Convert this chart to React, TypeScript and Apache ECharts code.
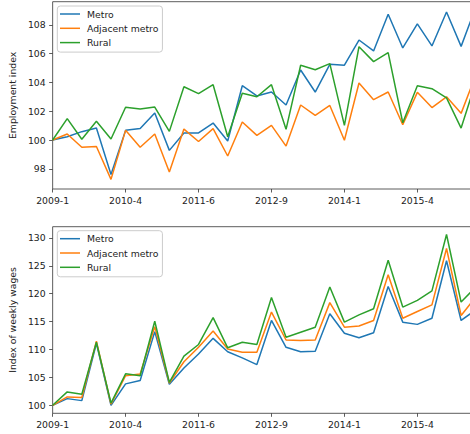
import { useEffect, useRef } from 'react';
import * as echarts from 'echarts';

const categories = [
  '2009-1', '2009-4', '2009-7', '2009-10', '2010-1', '2010-4', '2010-7', '2010-10', '2011-1', '2011-3',
  '2011-6', '2011-9', '2011-12', '2012-3', '2012-6', '2012-9', '2012-12', '2013-3', '2013-6', '2013-9',
  '2014-1', '2014-4', '2014-7', '2014-10', '2015-1', '2015-4', '2015-7', '2015-10', '2016-1', '2016-4'
];

const seriesNames = ['Metro', 'Adjacent metro', 'Rural'];
const colors = ['#1f77b4', '#ff7f0e', '#2ca02c'];

const employmentMetro = [
  100.0, 100.23, 100.58, 100.83, 97.6, 100.67, 100.8, 101.87, 99.28, 100.49,
  100.49, 101.18, 99.93, 103.77, 103.06, 103.33, 102.43, 104.86, 103.33, 105.25,
  105.19, 106.94, 106.18, 108.73, 106.39, 108.06, 106.53, 108.89, 106.5, 109.2
];
const employmentAdjacent = [
  100.0, 100.42, 99.5, 99.55, 97.27, 100.67, 99.5, 100.42, 97.78, 100.76,
  99.9, 100.79, 98.89, 101.25, 100.32, 101.02, 99.58, 102.43, 101.71, 102.4,
  99.98, 103.96, 102.8, 103.33, 101.06, 103.31, 102.25, 103.0, 101.85, 104.5
];
const employmentRural = [
  100.0, 101.48, 100.05, 101.3, 100.07, 102.27, 102.15, 102.29, 100.6, 103.7,
  103.22, 103.84, 100.23, 103.24, 103.0, 103.84, 100.74, 105.19, 104.88, 105.3,
  101.02, 106.48, 105.44, 106.06, 101.2, 103.77, 103.56, 102.92, 100.83, 104.0
];

const wagesMetro = [
  100.0, 101.2, 100.84, 111.1, 100.0, 103.84, 104.44, 113.2, 103.78, 106.7,
  109.2, 112.0, 109.6, 108.5, 107.3, 115.2, 110.4, 109.6, 109.7, 116.4,
  112.9, 112.1, 113.0, 121.3, 114.9, 114.5, 115.6, 125.9, 115.2, 117.1
];
const wagesAdjacent = [
  100.0, 101.5, 101.4, 111.5, 100.2, 105.3, 105.6, 114.1, 104.0, 107.8,
  110.4, 113.3, 110.1, 109.5, 109.5, 116.7, 111.7, 111.6, 111.7, 118.4,
  114.0, 114.2, 115.2, 123.4, 115.6, 116.8, 118.0, 128.1, 116.1, 119.4
];
const wagesRural = [
  100.0, 102.4, 102.0, 111.3, 100.4, 105.64, 105.3, 115.06, 104.1, 108.8,
  110.9, 115.7, 110.3, 111.3, 110.9, 119.3, 112.2, 113.1, 114.0, 121.2,
  114.9, 116.2, 117.3, 126.0, 117.6, 118.8, 120.5, 130.6, 118.5, 121.2
];

const FONT = 'DejaVu Sans';
const TEXT = '#222';
const SPINE = '#333';

const App = () => {
  const chartRef = useRef<HTMLDivElement>(null);

  useEffect(() => {
    if (!chartRef.current) return;

    const chart = echarts.init(chartRef.current, undefined, { renderer: 'svg' });

    const xAxisBase = {
      type: 'category',
      data: categories,
      boundaryGap: false,
      axisLine: { show: false },
      axisTick: { show: true, interval: 4, length: 3.5, lineStyle: { color: SPINE, width: 0.8 } },
      axisLabel: { interval: 4, margin: 7, fontSize: 9.3, color: TEXT, fontFamily: FONT },
      splitLine: { show: false }
    };

    const yAxisBase = {
      type: 'value',
      splitNumber: 6,
      nameLocation: 'middle',
      nameRotate: 90,
      nameGap: 30,
      nameTextStyle: { fontSize: 9.3, color: TEXT, fontFamily: FONT },
      axisLine: { show: false },
      axisTick: { show: true, length: 3.5, lineStyle: { color: SPINE, width: 0.8 } },
      axisLabel: { margin: 7, fontSize: 9.3, color: TEXT, fontFamily: FONT, showMinLabel: false, showMaxLabel: false },
      splitLine: { show: false }
    };

    const legendBase = {
      orient: 'vertical',
      left: 57.3,
      icon: 'rect',
      itemWidth: 20,
      itemHeight: 1.5,
      itemGap: 3.3,
      padding: [2.5, 4, 4, 2.7],
      backgroundColor: 'rgba(255,255,255,0.8)',
      borderColor: '#ccc',
      borderWidth: 1,
      borderRadius: 3,
      selectedMode: false,
      data: seriesNames,
      textStyle: { fontSize: 9.3, lineHeight: 11, color: TEXT, fontFamily: FONT, padding: [0, 0, 0, 2] }
    };

    const gridBase = {
      left: 52.3,
      right: 4.3,
      show: true,
      borderColor: SPINE,
      borderWidth: 0.8,
      backgroundColor: 'transparent'
    };

    const line = (name: string, data: number[], idx: number, color: string) => ({
      name,
      type: 'line',
      data,
      xAxisIndex: idx,
      yAxisIndex: idx,
      symbol: 'none',
      color,
      lineStyle: { width: 1.5, color },
      emphasis: { disabled: true }
    });

    const option = {
      animation: false,
      backgroundColor: '#fff',
      textStyle: { fontFamily: FONT },
      grid: [
        { ...gridBase, top: 1.7, height: 187.3 },
        { ...gridBase, top: 226.7, height: 186.6 }
      ],
      xAxis: [
        { ...xAxisBase, gridIndex: 0 },
        { ...xAxisBase, gridIndex: 1 }
      ],
      yAxis: [
        { ...yAxisBase, gridIndex: 0, min: 96.6, max: 109.6, name: 'Employment index' },
        { ...yAxisBase, gridIndex: 1, min: 98.57, max: 132.0, name: 'Index of weekly wages' }
      ],
      legend: [
        { ...legendBase, top: 6 },
        { ...legendBase, top: 230.7 }
      ],
      series: [
        line(seriesNames[0], employmentMetro, 0, colors[0]),
        line(seriesNames[1], employmentAdjacent, 0, colors[1]),
        line(seriesNames[2], employmentRural, 0, colors[2]),
        line(seriesNames[0], wagesMetro, 1, colors[0]),
        line(seriesNames[1], wagesAdjacent, 1, colors[1]),
        line(seriesNames[2], wagesRural, 1, colors[2])
      ]
    };

    chart.setOption(option);

    return () => {
      chart.dispose();
    };
  }, []);

  return (
    <div style={{ position: 'fixed', left: 0, top: 0, width: 470, height: 434, overflow: 'hidden', background: '#fff' }}>
      <div ref={chartRef} style={{ width: 480, height: 434 }} />
    </div>
  );
};

export default App;
